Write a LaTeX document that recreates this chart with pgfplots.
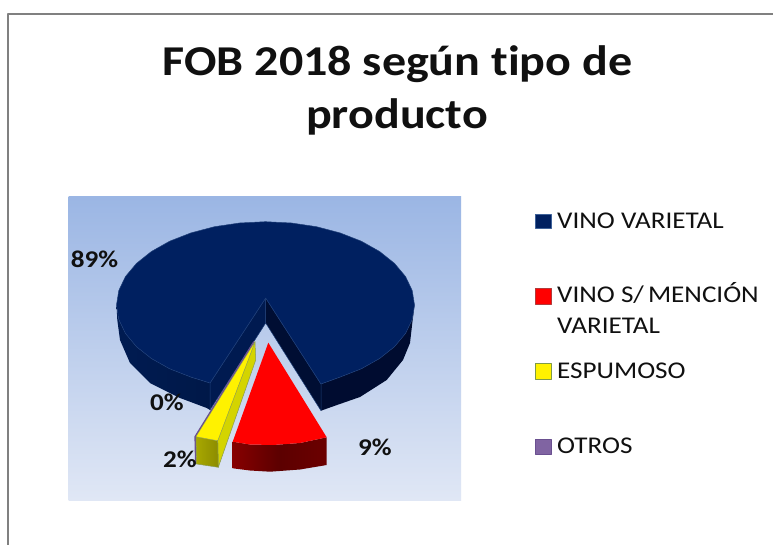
\documentclass[border=0pt]{standalone}
\usepackage{fontspec}
\setmainfont{Carlito}[FakeStretch=1.13,Ligatures=NoCommon]
\usepackage{pgfplots}
\pgfplotsset{compat=1.18}
\definecolor{navy}{HTML}{002060}
\definecolor{edge}{HTML}{1F3F78}
\definecolor{HTMLa}{HTML}{9BB6E4}
\definecolor{HTMLb}{HTML}{E0E7F5}
\definecolor{HTMLc}{HTML}{000C30}
\definecolor{HTMLd}{HTML}{001A50}
\definecolor{HTMLe}{HTML}{000E33}
\definecolor{HTMLf}{HTML}{6A5090}
\definecolor{HTMLg}{HTML}{8A9A50}
\definecolor{HTMLh}{HTML}{D4D400}
\definecolor{HTMLi}{HTML}{A8A800}
\definecolor{HTMLj}{HTML}{8C8C00}
\definecolor{HTMLk}{HTML}{860000}
\definecolor{HTMLl}{HTML}{6C0000}
\definecolor{HTMLm}{HTML}{5C0000}
\definecolor{HTMLn}{HTML}{3F6299}
\definecolor{HTMLo}{HTML}{B23A3A}
\definecolor{HTMLp}{HTML}{7F9A48}
\definecolor{HTMLq}{HTML}{8064A2}
\definecolor{txt}{HTML}{101010}
\newcommand{\fs}[1]{\fontsize{#1}{#1}\selectfont}
\begin{document}
\begin{tikzpicture}
\begin{axis}[
  hide axis, scale only axis, width=773pt, height=545pt,
  xmin=0, xmax=773, ymin=0, ymax=545, y dir=reverse, clip=true,
  every axis plot/.append style={line join=round},
  nodes={text=txt}]
% page
\addplot[draw=none, fill=white] coordinates {(0,0)(773,0)(773,545)(0,545)} --cycle;
\addplot[draw=black!50, line width=2pt] coordinates {(8.3,545)(8.3,14.3)(773,14.3)};
% plot area
\addplot[draw=none, top color=HTMLa, bottom color=HTMLb] coordinates {(68.5,197)(461,197)(461,500)(68.5,500)} --cycle;
% navy left side
\addplot[draw=none, left color=navy!85!black, right color=navy!75!black] coordinates {(116.5,305)(118.8,319.5)(125.5,333.5)(136.5,346.7)(151.4,358.5)(169.7,368.8)(191.0,377.1)(210,383)(210,410)(206.7,408)(180,398)(150,383)(130,363)(120,340)(117.3,320)} --cycle;
% navy right side
\addplot[draw=none, fill=HTMLc] coordinates {(321,384)(340.0,377.1)(361.3,368.8)(379.6,358.5)(394.5,346.7)(405.5,333.5)(412.2,319.5)(414.5,305)(412.3,323)(410,343)(403,360)(386.7,380)(360,397)(337,405)(321,410.7)} --cycle;
% navy inner faces
\addplot[draw=edge, line width=0.5pt, fill=HTMLd] coordinates {(265.7,298)(210,383)(210,410)(265.7,323)} --cycle;
\addplot[draw=edge, line width=0.5pt, fill=HTMLe] coordinates {(265.7,298)(321,384)(321,410.7)(265.7,323)} --cycle;
% navy top
\addplot[draw=edge, line width=0.5pt, fill=navy] coordinates {(321,384)(340.0,377.1)(361.3,368.8)(379.6,358.5)(394.5,346.7)(405.5,333.5)(412.2,319.5)(414.5,305)(412.2,290.5)(405.5,276.5)(394.5,263.4)(379.6,251.5)(361.3,241.2)(340.0,232.9)(316.5,226.7)(291.4,223.0)(265.5,221.7)(239.6,223.0)(214.5,226.7)(191.0,232.9)(169.7,241.2)(151.4,251.5)(136.5,263.4)(125.5,276.5)(118.8,290.5)(116.5,305)(118.8,319.5)(125.5,333.5)(136.5,346.7)(151.4,358.5)(169.7,368.8)(191.0,377.1)(210,383)(265.7,298)} --cycle;
% purple sliver
\addplot[draw=HTMLf, line width=1.6pt] coordinates {(254,341.7)(195.2,436.7)(195.8,464)};
% yellow faces
\addplot[draw=HTMLg, line width=0.5pt, fill=HTMLh] coordinates {(255,341.7)(255.7,360)(218.3,467.3)(217.7,440.7)} --cycle;
\addplot[draw=HTMLg, line width=0.5pt, left color=HTMLi, right color=HTMLj] coordinates {(196,436.7)(217.7,440.7)(218.3,467.3)(196.7,464)} --cycle;
\addplot[draw=HTMLg, line width=0.3pt, fill=yellow] coordinates {(255,341.7)(196,436.7)(217.7,440.7)} --cycle;
% red faces
\addplot[draw=none, left color=HTMLk, right color=HTMLl, middle color=HTMLm] coordinates {(326.7,437.3)(300,443)(273,445)(250,444.5)(232.7,441.7)(232.7,468.3)(250,470.5)(270,471.7)(300,469.5)(326.7,465)} --cycle;
\addplot[draw=none, fill=red] coordinates {(268.3,342.7)(326.7,437.3)(300,443)(273,445)(250,444.5)(232.7,441.7)} --cycle;
% legend keys
\addplot[draw=HTMLn, line width=1pt, fill=navy] coordinates {(535.5,214.5)(551,214.5)(551,229)(535.5,229)} --cycle;
\addplot[draw=HTMLo, line width=1pt, fill=red] coordinates {(535.5,288.5)(551,288.5)(551,304)(535.5,304)} --cycle;
\addplot[draw=HTMLp, line width=1pt, fill=yellow] coordinates {(535.5,363.5)(551,363.5)(551,379)(535.5,379)} --cycle;
\addplot[draw=HTMLf, line width=1pt, fill=HTMLq] coordinates {(535.5,439)(551,439)(551,454.5)(535.5,454.5)} --cycle;
% text
\node[font=\fs{42.5}\bfseries, anchor=base] at (axis cs:397.5,76) {FOB 2018 según tipo de};
\node[font=\fs{42.5}\bfseries, anchor=base] at (axis cs:397,129) {producto};
\node[font=\fs{24}\bfseries, anchor=base] at (axis cs:94.5,267.3) {89\%};
\node[font=\fs{24}\bfseries, anchor=base] at (axis cs:167,410) {0\%};
\node[font=\fs{24}\bfseries, anchor=base] at (axis cs:180,467.3) {2\%};
\node[font=\fs{24}\bfseries, anchor=base] at (axis cs:375,455) {9\%};
\node[font=\fs{24}, anchor=base west, inner sep=0pt] at (axis cs:557,228.3) {VINO VARIETAL};
\node[font=\fs{24}, anchor=base west, inner sep=0pt] at (axis cs:557,302.7) {VINO S/\hspace{-2pt} MENCIÓN};
\node[font=\fs{24}, anchor=base west, inner sep=0pt] at (axis cs:557,333.3) {VARIETAL};
\node[font=\fs{24}, anchor=base west, inner sep=0pt] at (axis cs:557,378.3) {ESPUMOSO};
\node[font=\fs{24}, anchor=base west, inner sep=0pt] at (axis cs:557,453.3) {OTROS};
\end{axis}
\end{tikzpicture}
\end{document}
